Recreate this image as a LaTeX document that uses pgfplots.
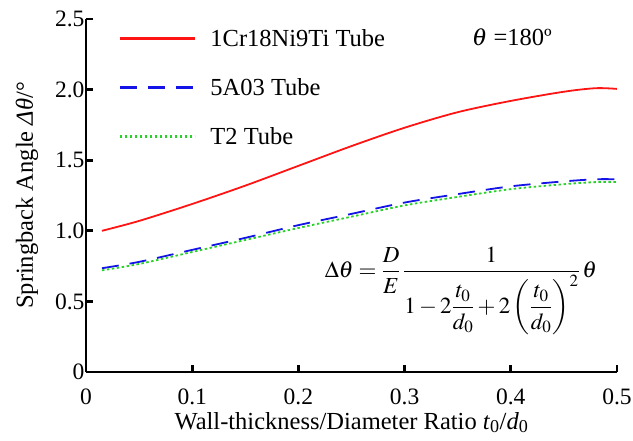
\documentclass[border=0pt]{standalone}
\usepackage{amsmath}
\usepackage{mathptmx}
\usepackage{fontspec}
\setmainfont{Liberation Serif}
\usepackage{pgfplots}
\pgfplotsset{compat=1.18}
\definecolor{tubered}{RGB}{255,20,20}
\definecolor{tubeblue}{RGB}{20,20,230}
\definecolor{tubegreen}{RGB}{40,210,40}

\begin{document}
\begin{tikzpicture}
\begin{axis}[
  scale only axis, width=531pt, height=353pt,
  xmin=0, xmax=0.5, ymin=0, ymax=2.5,
  axis x line*=bottom, axis y line*=left,
  x axis line style={line width=2.7pt, black},
  y axis line style={line width=2.7pt, black},
  every tick/.style={line width=2.7pt, black},
  tick align=inside, major tick length=7pt,
  xtick={0,0.1,0.2,0.3,0.4,0.5},
  xticklabels={0,0.1,0.2,0.3,0.4,0.5},
  ytick={0,0.5,1,1.5,2,2.5},
  yticklabels={0,0.5,1.0,1.5,2.0,2.5},
  every x tick label/.append style={font=\fontsize{23.5}{27}\selectfont, anchor=base, yshift=-32pt},
  every y tick label/.append style={font=\fontsize{23.5}{27}\selectfont, anchor=east, xshift=2pt},
  label style={font=\fontsize{24.5}{28}\selectfont},
  xlabel={Wall-thickness/Diameter Ratio \textit{t}\textsubscript{0}/\textit{d}\textsubscript{0}},
  ylabel={Springback Angle \textit{Δθ}/°},
  xlabel style={at={(axis description cs:0.5,-0.143)}, anchor=center},
  ylabel style={at={(axis description cs:-0.111,0.5)}, anchor=center},
  legend style={at={(0.055,0.983)}, anchor=north west, draw=none, fill=none,
    font=\fontsize{24.5}{28}\selectfont, row sep=26.5pt},
  legend cell align=left,
  legend image code/.code={\draw[#1, line width=2.4pt] (0pt,0pt) -- (75pt,0pt); \path (88pt,0pt);},
]
\addplot[tubered, line width=1.8pt, smooth] coordinates
  {(0.015,1.00)(0.05,1.07)(0.1,1.19)(0.15,1.32)(0.2,1.46)(0.25,1.60)
   (0.3,1.73)(0.35,1.84)(0.4,1.92)(0.45,1.985)(0.48,2.01)(0.5,2.005)};
\addlegendentry{1Cr18Ni9Ti Tube}
\addplot[tubeblue, line width=1.8pt, smooth, dash pattern=on 17pt off 11pt] coordinates
  {(0.015,0.735)(0.05,0.78)(0.1,0.865)(0.15,0.95)(0.2,1.04)(0.25,1.12)
   (0.3,1.20)(0.35,1.26)(0.4,1.315)(0.45,1.35)(0.48,1.365)(0.5,1.365)};
\addlegendentry{5A03 Tube}
\addplot[tubegreen, line width=1.8pt, smooth, dash pattern=on 2.5pt off 2.5pt] coordinates
  {(0.015,0.72)(0.05,0.765)(0.1,0.85)(0.15,0.935)(0.2,1.02)(0.25,1.10)
   (0.3,1.18)(0.35,1.24)(0.4,1.295)(0.45,1.33)(0.48,1.345)(0.5,1.345)};
\addlegendentry{T2 Tube}
\node[font=\fontsize{24.5}{28}\selectfont] at (axis cs:0.401,2.37) {$\theta$ =180º};
\node[font=\fontsize{23}{27}\selectfont] at (axis cs:0.353,0.574)
  {$\Delta\theta=\dfrac{D}{E}\,\dfrac{1}{1-2\dfrac{t_0}{d_0}+2\left(\dfrac{t_0}{d_0}\right)^{2}}\,\theta$};
\end{axis}
\pgfresetboundingbox
\path[use as bounding box] (-86pt,-68pt) rectangle (547pt,372pt);
\end{tikzpicture}
\end{document}
